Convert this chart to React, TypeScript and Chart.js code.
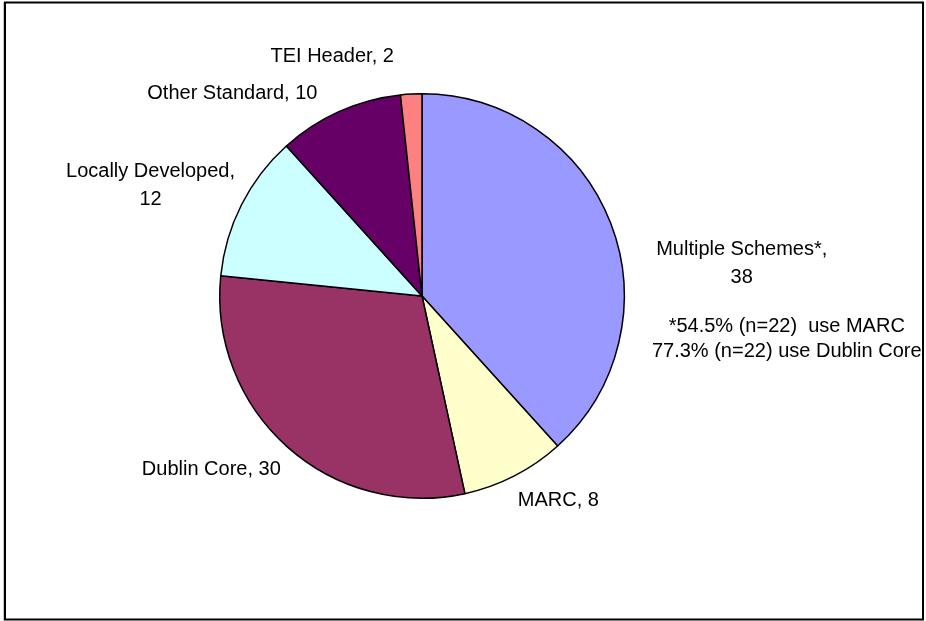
import React, { useEffect, useRef } from "react";
import { Chart, registerables } from "chart.js";

Chart.register(...registerables);

const categories = ["Multiple Schemes*", "MARC", "Dublin Core", "Locally Developed", "Other Standard", "TEI Header"];
const values = [38.3, 8.3, 30.0, 11.7, 10.0, 1.7];
const colors = ["#9999FF", "#FFFFCC", "#993366", "#CCFFFF", "#660066", "#FF8080"];
const labelLines = [
  ["Multiple Schemes*,", "38"],
  ["MARC, 8"],
  ["Dublin Core, 30"],
  ["Locally Developed,", "12"],
  ["Other Standard, 10"],
  ["TEI Header, 2"],
];
const noteLines = ["*54.5% (n=22)  use MARC", "77.3% (n=22) use Dublin Core"];

// label placement: offset (px) from the slice's outer edge at its mid-angle
const labelOffsets: [number, number][] = [
  [131, 40],
  [44, 25],
  [-76, 23],
  [-91, -19],
  [-107, -18],
  [-79, -38],
];
const noteOffset: [number, number] = [176, 116];
const FONT = '20px "Liberation Sans", Arial, sans-serif';

const labelPlugin = {
  id: "sliceLabels",
  afterDraw(chart: any) {
    const ctx = chart.ctx;
    const meta = chart.getDatasetMeta(0);
    ctx.save();
    ctx.font = FONT;
    ctx.fillStyle = "#000";
    ctx.textAlign = "center";
    ctx.textBaseline = "middle";
    let msEdge: [number, number] = [0, 0];
    meta.data.forEach((arc: any, i: number) => {
      const p = arc.getProps(["x", "y", "startAngle", "endAngle", "outerRadius"], true);
      const mid = (p.startAngle + p.endAngle) / 2;
      const ex = p.x + Math.cos(mid) * p.outerRadius;
      const ey = p.y + Math.sin(mid) * p.outerRadius;
      if (i === 0) msEdge = [ex, ey];
      const lines = labelLines[i];
      const lh = 28;
      const cx = ex + labelOffsets[i][0];
      const cy = ey + labelOffsets[i][1];
      lines.forEach((t, k) => {
        ctx.fillText(t, cx, cy + (k - (lines.length - 1) / 2) * lh);
      });
    });
    const nx = msEdge[0] + noteOffset[0];
    const ny = msEdge[1] + noteOffset[1];
    noteLines.forEach((t, k) => {
      ctx.fillText(t, nx, ny + (k - 0.5) * 25);
    });
    // outer frame
    ctx.strokeStyle = "#C8C8C8";
    ctx.lineWidth = 1;
    ctx.beginPath();
    ctx.moveTo(3.5, 2);
    ctx.lineTo(3.5, 621);
    ctx.stroke();
    ctx.strokeStyle = "#000";
    ctx.lineWidth = 2;
    ctx.strokeRect(5, 2.5, 918, 617);
    ctx.restore();
  },
};

export default function App() {
  const ref = useRef<HTMLCanvasElement>(null);
  useEffect(() => {
    if (!ref.current) return;
    const chart = new Chart(ref.current, {
      type: "pie",
      data: {
        labels: categories,
        datasets: [
          {
            data: values,
            backgroundColor: colors,
            borderColor: "#000",
            borderWidth: 1.5,
          },
        ],
      },
      options: {
        responsive: false,
        animation: false,
        rotation: 0,
        layout: { padding: { top: 93, bottom: 122, left: 219, right: 301 } },
        plugins: {
          legend: { display: false },
          tooltip: { enabled: false },
        },
      },
      plugins: [labelPlugin],
    });
    return () => chart.destroy();
  }, []);
  return (
    <div style={{ position: "absolute", left: 0, top: 0, width: 926, height: 621, background: "#fff" }}>
      <canvas ref={ref} width={926} height={621} style={{ display: "block" }} />
    </div>
  );
}
